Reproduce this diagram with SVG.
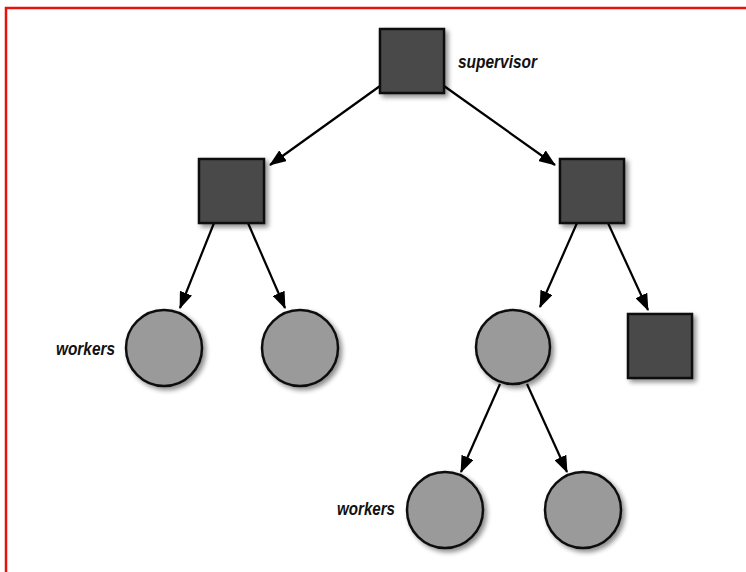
<svg xmlns="http://www.w3.org/2000/svg" width="746" height="572" viewBox="0 0 746 572">
  <defs>
    <filter id="sh" x="-30%" y="-30%" width="160%" height="160%">
      <feGaussianBlur in="SourceAlpha" stdDeviation="2.5"/>
      <feOffset dx="3" dy="3" result="b"/>
      <feComponentTransfer><feFuncA type="linear" slope="0.45"/></feComponentTransfer>
      <feMerge><feMergeNode/><feMergeNode in="SourceGraphic"/></feMerge>
    </filter>
    <style>
      .sq { fill: #4a4a4a; stroke: #111; stroke-width: 2.5; filter: url(#sh); }
      .ci { fill: #9a9a9a; stroke: #111; stroke-width: 2.5; filter: url(#sh); }
      .lbl { font-family: "Liberation Sans", Arial, sans-serif; font-style: italic; font-weight: bold; font-size: 18px; fill: #111; }
      .edge { stroke: #000; stroke-width: 2.2; fill: none; marker-end: url(#ah); }
      .arrowmark { fill: #000; }
    </style>
    <marker id="ah" viewBox="0 0 17 13" refX="16" refY="6.5" markerWidth="17" markerHeight="13" markerUnits="userSpaceOnUse" orient="auto">
      <path d="M0,0 L17,6.5 L0,13 z" class="arrowmark"/>
    </marker>
  </defs>
  <rect x="0" y="0" width="746" height="572" fill="#ffffff"/>
  <path d="M6,572 L6,8 L746,8" fill="none" stroke="#e8120c" stroke-width="2.5"/>

  <g id="connectors">
    <line class="edge" x1="380" y1="86" x2="270" y2="165"/>
    <line class="edge" x1="444" y1="86" x2="555" y2="165"/>
    <line class="edge" x1="214" y1="223" x2="180" y2="308"/>
    <line class="edge" x1="248" y1="223" x2="285" y2="308"/>
    <line class="edge" x1="577" y1="223" x2="540" y2="307"/>
    <line class="edge" x1="608" y1="223" x2="648" y2="310"/>
    <line class="edge" x1="500" y1="384" x2="461" y2="472"/>
    <line class="edge" x1="527" y1="384" x2="567" y2="472"/>
  </g>

  <g id="supervisor">
    <rect class="sq" x="380" y="29" width="64" height="64"/>
    <text class="lbl" x="458" y="68" textLength="79" lengthAdjust="spacingAndGlyphs">supervisor</text>
  </g>
  <g id="sup-left">
    <rect class="sq" x="199" y="159" width="65" height="64"/>
  </g>
  <g id="sup-right">
    <rect class="sq" x="560" y="159" width="64" height="64"/>
  </g>
  <g id="worker-1">
    <circle class="ci" cx="164" cy="348" r="38"/>
    <text class="lbl" x="56" y="355" textLength="59" lengthAdjust="spacingAndGlyphs">workers</text>
  </g>
  <g id="worker-2">
    <circle class="ci" cx="300" cy="348" r="38"/>
  </g>
  <g id="worker-3">
    <circle class="ci" cx="513" cy="347" r="37"/>
  </g>
  <g id="sup-leaf">
    <rect class="sq" x="628" y="314" width="64" height="64"/>
  </g>
  <g id="worker-4">
    <circle class="ci" cx="445" cy="510" r="38"/>
    <text class="lbl" x="337" y="515" textLength="58" lengthAdjust="spacingAndGlyphs">workers</text>
  </g>
  <g id="worker-5">
    <circle class="ci" cx="583" cy="510" r="38"/>
  </g>
</svg>
